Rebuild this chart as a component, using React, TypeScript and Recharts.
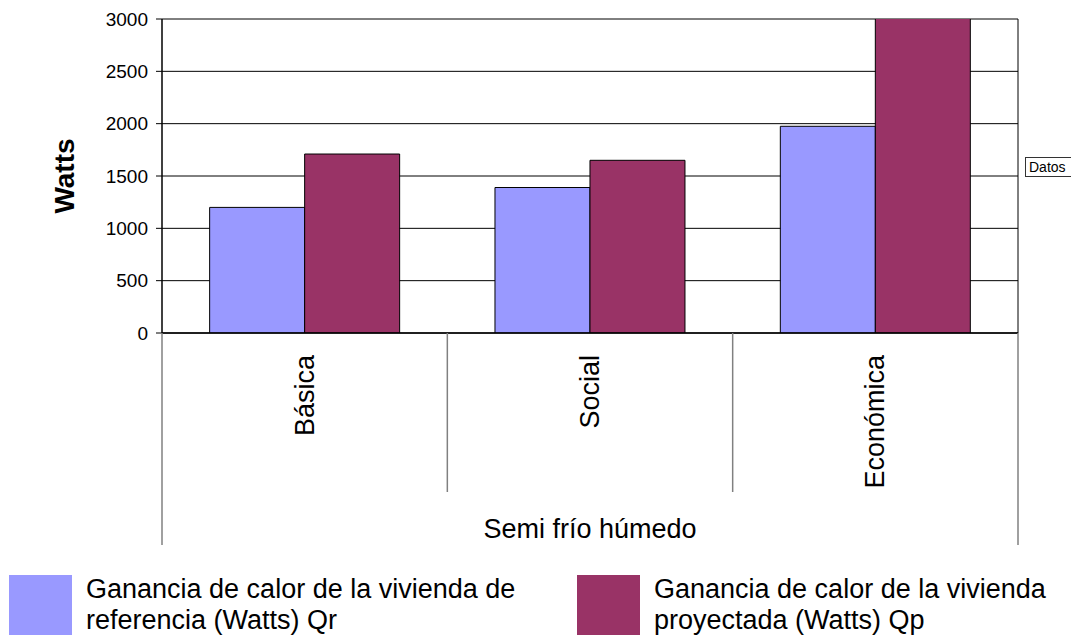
import React from 'react';
import { BarChart, Bar, XAxis, YAxis, CartesianGrid, Legend } from 'recharts';

const categories = ['Básica', 'Social', 'Económica'];
const qrValues = [1200, 1390, 1975];
const qpValues = [1710, 1650, 3030];
const yTicks = [0, 500, 1000, 1500, 2000, 2500, 3000];
const seriesKeys = ['qr', 'qp'];
const seriesNames = [
  'Ganancia de calor de la vivienda de referencia (Watts) Qr',
  'Ganancia de calor de la vivienda proyectada (Watts) Qp',
];
const seriesColors = ['#9999FF', '#993366'];
const groupLabel = 'Semi frío húmedo';
const yAxisTitle = 'Watts';
const fieldButton = 'Datos';

const data = categories.map((c, i) => ({ category: c, qr: qrValues[i], qp: qpValues[i] }));

const FONT = '"Liberation Sans", Arial, sans-serif';
const W = 1071;
const H = 635;
const MARGIN = { top: 19, right: 53, left: 0, bottom: 90 };
const Y_AXIS_W = 162;
const X_AXIS_H = 212;
const PLOT_W = W - MARGIN.left - MARGIN.right - Y_AXIS_W;

const CategoryTick = (props: any) => {
  const { x, y, payload, index } = props;
  const half = payload && payload.offset > 0 ? payload.offset : PLOT_W / categories.length / 2;
  const inner = 159;
  const outer = X_AXIS_H;
  const tx = x + 9;
  const ty = y + 22;
  return (
    <g>
      <line x1={x - half} y1={y} x2={x - half} y2={y + (index === 0 ? outer : inner)} stroke="#808080" strokeWidth={1.5} />
      {index === categories.length - 1 && (
        <line x1={x + half} y1={y} x2={x + half} y2={y + outer} stroke="#808080" strokeWidth={1.5} />
      )}
      <text
        x={tx}
        y={ty}
        transform={`rotate(-90, ${tx}, ${ty})`}
        textAnchor="end"
        fontSize={27}
        fontFamily={FONT}
        fill="#000"
      >
        {payload.value}
      </text>
    </g>
  );
};

const renderLegend = (props: any) => {
  const payload = props.payload || [];
  return (
    <div style={{ position: 'relative', width: W, height: 61 }}>
      {payload.map((entry: any, i: number) => {
        const k = seriesKeys.indexOf(entry.dataKey);
        const idx = k >= 0 ? k : i;
        return (
          <div key={i} style={{ position: 'absolute', left: 9 + idx * 568, top: 0, display: 'flex' }}>
            <div style={{ width: 63, height: 60, background: seriesColors[idx], marginTop: 1 }} />
            <div
              style={{
                marginLeft: 14,
                width: 450,
                fontSize: 27,
                lineHeight: '31px',
                color: '#000',
                fontFamily: FONT,
              }}
            >
              {seriesNames[idx]}
            </div>
          </div>
        );
      })}
    </div>
  );
};

export default function App() {
  return (
    <div style={{ position: 'absolute', left: 0, top: 0, width: W, height: H, overflow: 'hidden', background: '#fff', fontFamily: FONT }}>
      <BarChart
        width={W}
        height={H}
        data={data}
        margin={MARGIN}
        barCategoryGap="16.7%"
        barGap={0}
      >
        <CartesianGrid
          stroke="#000"
          strokeWidth={1}
          horizontal={true}
          vertical={true}
          verticalCoordinatesGenerator={(p: any) => [p.offset.left + p.offset.width]}
        />
        <XAxis
          dataKey="category"
          interval={0}
          height={X_AXIS_H}
          tickSize={0}
          tickMargin={0}
          tickLine={false}
          axisLine={{ stroke: '#000', strokeWidth: 1.5 }}
          tick={<CategoryTick />}
          label={{
            content: (p: any) => {
              const vb = p.viewBox || {};
              const cx = vb.x + vb.width / 2;
              const cy = vb.y + 205;
              return (
                <text x={cx} y={cy} textAnchor="middle" fontSize={27} fontFamily={FONT} fill="#000">
                  {groupLabel}
                </text>
              );
            },
          }}
        />
        <YAxis
          width={Y_AXIS_W}
          domain={[0, 3000]}
          ticks={yTicks}
          allowDataOverflow={true}
          interval={0}
          tickSize={6}
          tickMargin={8}
          tick={{ fontSize: 19, fill: '#000', fontFamily: FONT }}
          tickLine={{ stroke: '#000', strokeWidth: 1 }}
          axisLine={{ stroke: '#000', strokeWidth: 1.5 }}
          label={{
            content: (p: any) => {
              const vb = p.viewBox || {};
              const cx = vb.x + 64;
              const cy = vb.y + vb.height / 2;
              return (
                <text
                  x={cx}
                  y={cy}
                  transform={`rotate(-90, ${cx}, ${cy})`}
                  textAnchor="middle"
                  dominantBaseline="central"
                  fontSize={28}
                  fontWeight="bold"
                  fontFamily={FONT}
                  fill="#000"
                >
                  {yAxisTitle}
                </text>
              );
            },
          }}
        />
        <Legend
          layout="horizontal"
          verticalAlign="middle"
          align="center"
          wrapperStyle={{ top: 574, left: 0, width: W, height: 61 }}
          content={renderLegend}
        />
        <Bar dataKey="qr" name={seriesNames[0]} fill={seriesColors[0]} stroke="#000" strokeWidth={1} isAnimationActive={false} />
        <Bar dataKey="qp" name={seriesNames[1]} fill={seriesColors[1]} stroke="#000" strokeWidth={1} isAnimationActive={false} />
      </BarChart>
      <div
        style={{
          position: 'absolute',
          left: 1025,
          top: 157,
          width: 60,
          height: 18,
          border: '1px solid #333',
          fontSize: 14,
          lineHeight: '18px',
          paddingLeft: 3,
          fontFamily: FONT,
          color: '#000',
          background: '#fff',
          boxSizing: 'content-box',
        }}
      >
        {fieldButton}
      </div>
    </div>
  );
}
